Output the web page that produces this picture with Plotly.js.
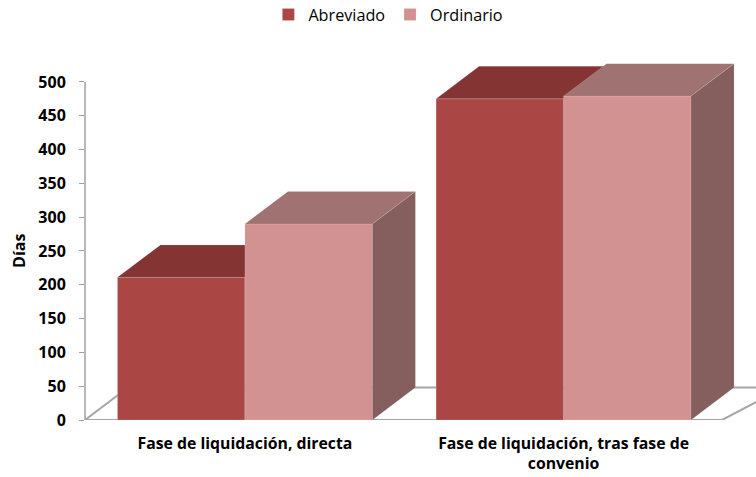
<!DOCTYPE html>
<html>
<head>
<meta charset="utf-8">
<script src="https://cdn.plot.ly/plotly-3.0.1.min.js"></script>
<style>html,body{margin:0;padding:0;background:#fff;}#chart{width:756px;height:477px;}</style>
</head>
<body>
<div id="chart"></div>
<script>
// ---- data ----
var categories = ["Fase de liquidación, directa", "Fase de liquidación, tras fase de<br>convenio"];
var seriesNames = ["Abreviado", "Ordinario"];
var abreviado = [211, 475];
var ordinario = [290, 479];
var yTicks = [0, 50, 100, 150, 200, 250, 300, 350, 400, 450, 500];

// ---- style ----
var FONT = "'Open Sans', Carlito, Calibri, sans-serif";
var BW = 0.4;          // bar width (category units)
var DX = 0.135;        // depth offset (category units)
var DY = 48;           // depth offset (value units)
var XR = [-0.502, 1.604];
var YR = [0, 562];
var colors = {
  Abreviado: {front: "#AA4644", top: "#843433", side: "#753030"},
  Ordinario: {front: "#D39292", top: "#A07271", side: "#845F5E"}
};

function faces(vals, offset) {
  var tx = [], ty = [], sx = [], sy = [];
  vals.forEach(function (v, i) {
    var x0 = i + offset, x1 = x0 + BW;
    tx.push(x0, x1, x1 + DX, x0 + DX, x0, null);
    ty.push(v, v, v + DY, v + DY, v, null);
    sx.push(x1, x1 + DX, x1 + DX, x1, x1, null);
    sy.push(0, DY, v + DY, v, 0, null);
  });
  return {tx: tx, ty: ty, sx: sx, sy: sy};
}

function seriesTraces(name, vals, offset, xa, ya) {
  var c = colors[name];
  var f = faces(vals, offset);
  var idx = vals.map(function (_, i) { return i; });
  return [
    {type: "bar", name: name, x: idx, y: vals, width: BW, offset: offset,
     xaxis: xa, yaxis: ya, marker: {color: c.front, line: {width: 0.6, color: "rgba(255,255,255,0.25)"}},
     hoverinfo: "skip"},
    {type: "scatter", mode: "lines", x: f.tx, y: f.ty, fill: "toself", fillcolor: c.top,
     line: {width: 0.6, color: "rgba(255,255,255,0.2)"}, xaxis: xa, yaxis: ya,
     showlegend: false, hoverinfo: "skip"},
    {type: "scatter", mode: "lines", x: f.sx, y: f.sy, fill: "toself", fillcolor: c.side,
     line: {width: 0.6, color: "rgba(255,255,255,0.2)"}, xaxis: xa, yaxis: ya,
     showlegend: false, hoverinfo: "skip"}
  ];
}

var data = [].concat(
  seriesTraces(seriesNames[0], abreviado, -BW, "x", "y"),
  seriesTraces(seriesNames[1], ordinario, 0, "x2", "y2")
);

var xRight = XR[0] + (722 - 85) / 671 * (XR[1] - XR[0]);
var floorPath = "M " + XR[0] + " 0 L " + xRight + " 0 L " + (xRight + 0.195) + " " + DY +
  " L " + (XR[0] + DX) + " " + DY + " Z";

var layout = {
  width: 756, height: 477,
  margin: {l: 85, r: 0, t: 40, b: 57},
  paper_bgcolor: "#fff", plot_bgcolor: "rgba(0,0,0,0)",
  font: {family: FONT, size: 14, color: "#000"},
  showlegend: true,
  legend: {orientation: "h", xref: "container", yref: "container", x: 0.355, y: 1 - 15 / 477,
           xanchor: "left", yanchor: "middle", font: {size: 16.2, family: FONT},
           traceorder: "normal", bgcolor: "rgba(0,0,0,0)"},
  xaxis: {range: XR, tickvals: [0, 1], ticktext: categories, showgrid: false, zeroline: false,
          showline: false, ticks: "", ticklabelstandoff: 12,
          tickfont: {family: FONT, size: 15.8, weight: "bold"}, fixedrange: true},
  yaxis: {range: YR, tickvals: yTicks, showgrid: false, zeroline: false, showline: false,
          ticks: "outside", ticklen: 5, tickcolor: "#A0A0A0", tickwidth: 1,
          ticklabelstandoff: 10, tickfont: {family: FONT, size: 16, weight: "bold"}, fixedrange: true},
  xaxis2: {range: XR, overlaying: "x", visible: false, fixedrange: true},
  yaxis2: {range: YR, overlaying: "y", visible: false, fixedrange: true},
  shapes: [
    {type: "path", xref: "x", yref: "y", path: floorPath, layer: "below",
     fillcolor: "#fff", line: {color: "#A6A6A6", width: 2}},
    {type: "line", xref: "paper", yref: "y", x0: 0, x1: 0, y0: 0, y1: yTicks[yTicks.length - 1],
     layer: "above", line: {color: "#A0A0A0", width: 1.5}}
  ],
  annotations: [
    {text: "<b>Días</b>", xref: "paper", yref: "y", x: (19 - 85) / 671, y: 250,
     xanchor: "center", yanchor: "middle",
     textangle: -90, showarrow: false, font: {family: FONT, size: 16}}
  ],
  hovermode: false
};

Plotly.newPlot("chart", data, layout, {displayModeBar: false, staticPlot: true});
</script>
</body>
</html>
